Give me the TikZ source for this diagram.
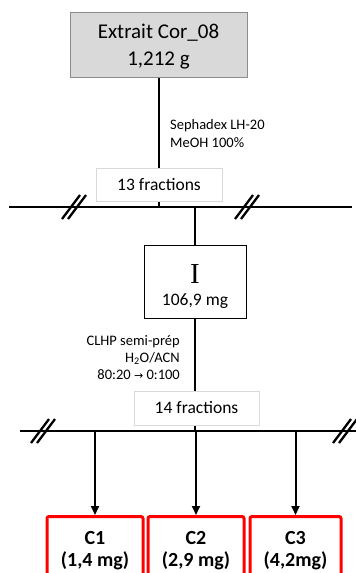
\documentclass[tikz,border=0pt]{standalone}
\usepackage{fontspec}
\setmainfont{Carlito}
\newfontfamily\seriffont{Liberation Serif}
\newfontfamily\arrowfont{DejaVu Sans}
\usetikzlibrary{arrows.meta,backgrounds,calc}
\definecolor{boxgray}{HTML}{D9D9D9}
\definecolor{edgegray}{HTML}{8C8C8C}
\definecolor{fracgray}{HTML}{D9D9D9}
\definecolor{redbox}{HTML}{FF0000}
\begin{document}
\begin{tikzpicture}[x=1pt,y=-1pt,
  mainline/.style={line width=2pt},
  fracbox/.style={draw=fracgray,fill=white,line width=1pt,minimum width=126pt,minimum height=33pt,inner sep=0pt,font=\fontsize{17.5}{20}\selectfont},
  resbox/.style={draw=redbox,line width=3pt,rounded corners=2pt,minimum width=93pt,minimum height=72pt,inner sep=0pt,anchor=north},
  restext/.style={inner sep=0pt,font=\bfseries\fontsize{20}{23}\selectfont},
  brk/.style={line width=2.3pt},
  cond/.style={inner sep=0pt,font=\fontsize{14.5}{17.3}\selectfont},
  arr/.style={line width=2pt,-{Triangle[width=8pt,length=9pt]}}]
\useasboundingbox (0,0) rectangle (356,573);
% nodes
\node[draw=edgegray,fill=boxgray,line width=1pt,minimum width=177pt,minimum height=65pt,inner sep=0pt] (top) at (158.5,44.5) {};
\node[inner sep=0pt,font=\fontsize{21}{25}\selectfont] (t1) at (158.5,32.5) {Extrait Cor\_08};
\node[inner sep=0pt,font=\fontsize{21}{25}\selectfont] (t2) at (158.5,60) {1,212 g};
\node[fracbox] (f13) at (159,184.5) {13 fractions};
\node[draw,line width=0.9pt,minimum width=102pt,minimum height=73pt,inner sep=0pt] (I) at (195,281.5) {};
\node[inner sep=0pt,font=\seriffont\fontsize{29}{30}\selectfont] (Ilab) at (195,274) {I};
\node[inner sep=0pt,font=\fontsize{17.5}{20}\selectfont] (Imass) at (195,301.5) {106,9 mg};
\node[fracbox,minimum width=125pt,minimum height=34pt] (f14) at (196.5,408) {14 fractions};
\node[resbox,minimum width=96pt] (c1) at (95,515) {};
\node[resbox,minimum width=96pt] (c2) at (196,515) {};
\node[resbox,minimum width=91pt] (c3) at (295.5,515) {};
\foreach \n/\lab/\m in {c1/C1/(1{,}4 mg), c2/C2/(2{,}9 mg), c3/C3/(4{,}2mg)}{
  \node[restext] (\n a) at ($(\n.north)+(0,23)$) {\lab};
  \node[restext] (\n b) at ($(\n.north)+(0,46)$) {\m};
}
% labels
\node[cond,anchor=west,align=left] (sep) at (170,133.5) {Sephadex LH-20\\MeOH 100\%};
\node[cond,anchor=east,align=right] (clhp) at (180,357.5) {CLHP semi-prép\\H\textsubscript{2}O/ACN\\80:20 {\arrowfont\fontsize{11}{12}\selectfont →} 0:100};
% horizontal lines
\coordinate (h1a) at (9,207);
\coordinate (h1b) at (352,207);
\coordinate (h2a) at (20,431);
\coordinate (h2b) at (356,431);
\begin{scope}[on background layer]
\draw[mainline] (top.south) -- (top.south |- h1a);
\draw[mainline] (f13.south) -- (f13.south |- h1a);
\draw[mainline] (h1a) -- (h1b);
\draw[mainline] (I.north |- h1a) -- (I.north);
\draw[mainline] (I.south) -- (I.south |- h2a);
\draw[mainline] (h2a) -- (h2b);
\end{scope}
\draw[arr] (c1.north |- h2a) -- (c1.north);
\draw[arr] (c2.north |- h2a) -- (c2.north);
\draw[arr] (c3.north |- h2a) -- (c3.north);
% break marks
\foreach \cx/\cy in {74/207, 247/207, 43/431, 345/431}{
  \draw[brk] (\cx-12,\cy+12) -- (\cx+6,\cy-12);
  \draw[brk] (\cx-6,\cy+12) -- (\cx+12,\cy-12);
}
\end{tikzpicture}
\end{document}
